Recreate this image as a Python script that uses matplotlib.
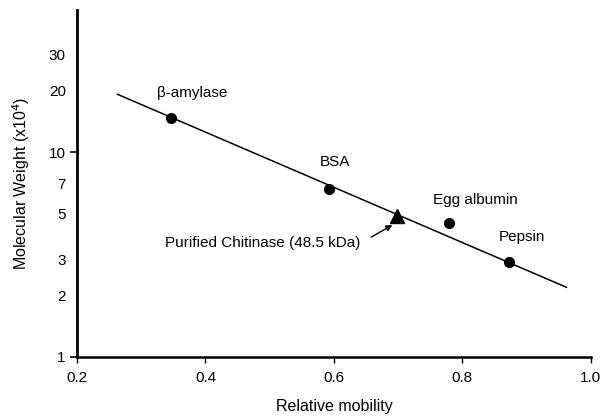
import matplotlib.pyplot as plt
from matplotlib.ticker import FixedLocator, FixedFormatter

plt.rcParams['font.family'] = ['Liberation Sans', 'DejaVu Sans']

# standard proteins (relative mobility, MW x10^4)
std_names = ["β-amylase", "BSA", "Egg albumin", "Pepsin"]
std_mobility = [0.347, 0.593, 0.779, 0.873]
std_mw = [14.7, 6.6, 4.49, 2.91]

# purified chitinase
chit_mobility = [0.698]
chit_mw = [4.87]
chit_label = "Purified Chitinase (48.5 kDa)"

# fitted line end points
fit_x = [0.263, 0.962]
fit_y = [19.2, 2.19]

# label anchors (data coords)
label_x = [0.380, 0.601, 0.820, 0.893]
label_y = [19.4, 8.97, 5.83, 3.86]

major_ticks = [1, 10]
minor_ticks = [2, 3, 5, 7, 20, 30]
x_ticks = [0.2, 0.4, 0.6, 0.8, 1.0]

fig = plt.figure(figsize=(6.11, 4.18), dpi=100)
ax = fig.add_axes([0.126, 0.146, 0.841, 0.829])

ax.plot(fit_x, fit_y, color='black', lw=1.1, zorder=2)
ax.plot(std_mobility, std_mw, 'o', color='black', ms=7, zorder=3)
ax.plot(chit_mobility, chit_mw, '^', color='black', ms=9.5, zorder=3)

for name, lx, ly in zip(std_names, label_x, label_y):
    ax.text(lx, ly, name, ha='center', va='center', fontsize=11)

ax.text(0.489, 3.6, chit_label, ha='center', va='center', fontsize=11)
ax.annotate('', xy=(0.691, 4.41), xytext=(0.658, 3.85),
            arrowprops=dict(arrowstyle='-|>', color='black', lw=1.0,
                            mutation_scale=9, shrinkA=0, shrinkB=0))

ax.set_yscale('log')
ax.set_xlim(0.2, 1.0)
ax.set_ylim(1, 49.3)

ax.yaxis.set_major_locator(FixedLocator(major_ticks))
ax.yaxis.set_major_formatter(FixedFormatter([str(v) for v in major_ticks]))
ax.yaxis.set_minor_locator(FixedLocator(minor_ticks))
ax.yaxis.set_minor_formatter(FixedFormatter([str(v) for v in minor_ticks]))
ax.tick_params(axis='y', which='minor', length=0, pad=8, labelsize=11)
ax.tick_params(axis='y', which='major', length=5, width=1.2, pad=3, labelsize=11)

ax.set_xticks(x_ticks)
ax.set_xticklabels(['0.2', '0.4', '0.6', '0.8', '1.0'])
ax.tick_params(axis='x', length=4, width=1.0, pad=6, labelsize=11)

for side in ['top', 'right']:
    ax.spines[side].set_visible(False)
ax.spines['left'].set_linewidth(2.0)
ax.spines['bottom'].set_linewidth(1.8)

ax.set_xlabel("Relative mobility", fontsize=11.5, labelpad=10)
ax.set_ylabel("Molecular Weight (x10$^4$)", fontsize=11.5, labelpad=12)

fig.savefig("out.png", dpi=100)
